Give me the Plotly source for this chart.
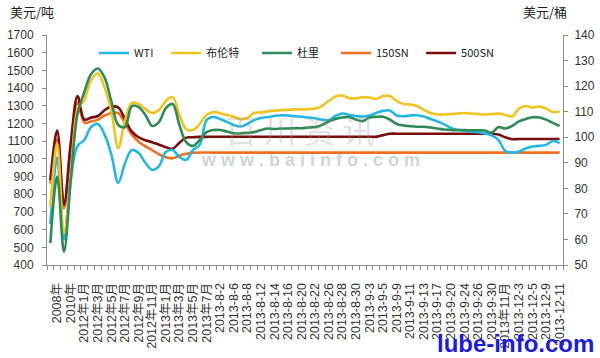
import plotly.graph_objects as go

categories = [
    "2007年", "2008年", "2009年", "2010年", "2011年",
    "2012年1月", "2012年2月", "2012年3月", "2012年4月", "2012年5月", "2012年6月",
    "2012年7月", "2012年8月", "2012年9月", "2012年10月", "2012年11月", "2012年12月",
    "2013年1月", "2013年2月", "2013年3月", "2013年4月", "2013年5月", "2013年6月", "2013年7月",
    "2013-8-1", "2013-8-2", "2013-8-5", "2013-8-6", "2013-8-7", "2013-8-8", "2013-8-9",
    "2013-8-12", "2013-8-13", "2013-8-14", "2013-8-15", "2013-8-16",
    "2013-8-19", "2013-8-20", "2013-8-21", "2013-8-22", "2013-8-23",
    "2013-8-26", "2013-8-27", "2013-8-28", "2013-8-29", "2013-8-30",
    "2013-9-2", "2013-9-3", "2013-9-4", "2013-9-5", "2013-9-6",
    "2013-9-9", "2013-9-10", "2013-9-11", "2013-9-12", "2013-9-13",
    "2013-9-16", "2013-9-17", "2013-9-18", "2013-9-20",
    "2013-9-23", "2013-9-24", "2013-9-25", "2013-9-26", "2013-9-27",
    "2013-9-30", "2013年10月", "2013年11月",
    "2013-12-2", "2013-12-3", "2013-12-4", "2013-12-5", "2013-12-6",
    "2013-12-9", "2013-12-10", "2013-12-11",
]

# crude oils, USD/barrel (right axis)
wti = [66, 92, 60, 84, 96.6, 98.9, 104, 105.2, 100.9, 93, 82.1, 89.9, 95, 93.8, 89.9, 87.2, 88.7,
       94.2, 95, 92.3, 91.1, 95, 97, 106.7,
       107.9, 107.1, 106, 104.8, 104.2, 105.2, 106.7, 107.5, 107.9, 108.3, 108.6, 108.5, 108.2, 108,
       107.7, 107.4, 106.9, 106.7, 108.3, 109.3, 108.7, 108.3, 108.1, 108.5, 109.5, 110.3, 110.5,
       108.5, 108.2, 108.5, 108.6, 108.1, 107.1, 106.2, 105, 103.6, 102.8, 102.5, 102.3, 102,
       101.5, 100.7, 98.9, 94.6, 94, 94.3, 95.6, 96.4, 96.6, 97, 98.5, 97.7]
brent = [72.8, 97.6, 62.5, 84, 110.7, 114.6, 122.4, 124.9, 119.3, 109.9, 95.8, 106.7, 113.4, 113,
         111, 109.5, 110.7, 114.2, 115.7, 108.7, 103.2, 102.8, 105.2, 108.7,
         109.9, 109.4, 108.7, 108, 107.1, 107.5, 109.5, 109.7, 110.1, 110.4, 110.6, 110.7, 110.9,
         110.9, 111, 111.2, 112.2, 114.2, 115.9, 116.3, 115.3, 115.2, 115.7, 115.5, 115, 116.1,
         116.1, 114.2, 113, 112.8, 112.2, 110.7, 109.5, 108.9, 108.9, 109.1, 109.3, 109.5, 109.3,
         109.1, 108.9, 109.1, 109.3, 108.7, 108.1, 111.2, 112.2, 111.6, 112, 111.2, 109.9, 110.1]
duri = [58.6, 84.6, 55.2, 83, 109.3, 117.7, 124.7, 126.9, 123.2, 113.8, 104.8, 104, 112.2, 111.8,
        108.7, 104.4, 106, 111.4, 113, 104.8, 98.1, 96.6, 98.9, 102,
        102.8, 102.8, 102.2, 101.5, 101.5, 101.7, 102, 102.8, 103.4, 103.2, 103.4, 103.4, 103.5,
        103.5, 103.8, 104, 104.8, 106.2, 107.1, 107.7, 107.9, 106.9, 106.3, 107.7, 108, 108,
        106.9, 105.2, 104.6, 104.3, 104.1, 104.1, 103.8, 103.4, 103, 102.8, 102.8, 102.8, 102.7,
        102.7, 102.6, 101.8, 104, 103.4, 104.4, 106.2, 107.1, 107.8, 107.7, 106.9, 105.6, 104.4]

# base oils, USD/ton (left axis)
sn150 = [860, 1110, 720, 1060, 1320, 1205, 1211, 1222, 1245, 1259, 1259, 1199, 1137, 1097, 1071,
         1049, 1026, 1009, 1003, 1017, 1029, 1034, 1036, 1036] + [1035] * 52
sn500 = [880, 1160, 740, 1090, 1355, 1222, 1233, 1242, 1276, 1295, 1290, 1222, 1154, 1122, 1105,
         1094, 1080, 1066, 1057, 1091, 1120, 1122, 1124, 1124] + [1125] * 25 + [1134] + \
        [1142] * 16 + [1137, 1122, 1111] + [1112] * 7

names = ["WTI", "布伦特", "杜里", "150SN", "500SN"]
values = [wti, brent, duri, sn150, sn500]
colors = ["#22B8E6", "#F2C31C", "#2E8B57", "#F07022", "#7B0C0C"]
yaxes = ["y2", "y2", "y2", "y", "y"]
legend_ids = ["legend", "legend2", "legend3", "legend4", "legend5"]
legend_x = [0.091, 0.231, 0.407, 0.560, 0.725]

x = list(range(len(categories)))
fig = go.Figure()
for name, vals, col, ax, lg in zip(names, values, colors, yaxes, legend_ids):
    fig.add_trace(go.Scatter(x=x, y=vals, name=name, yaxis=ax, mode="lines", legend=lg,
                             hoverinfo="skip",
                             line=dict(color=col, width=2.6, shape="spline", smoothing=1.0)))

tick_idx = list(range(1, len(categories), 2))
tick_txt = [categories[i] for i in tick_idx]
axis_col = "#8C8C8C"
font_fam = "Liberation Sans, Arial, Noto Sans CJK SC"
cjk = "Noto Sans CJK SC"

legend_style = dict(orientation="h", y=0.922, xanchor="left", yanchor="middle",
                    font=dict(family=cjk, size=11, color="#222"), bgcolor="rgba(0,0,0,0)",
                    itemwidth=30)
layout_legends = {lg: dict(legend_style, x=lx) for lg, lx in zip(legend_ids, legend_x)}

fig.update_layout(
    width=600, height=358,
    margin=dict(l=47, r=37, t=35, b=93),
    paper_bgcolor="white", plot_bgcolor="white",
    showlegend=True,
    xaxis=dict(range=[-0.5, len(categories) - 0.5], tickmode="array", tickvals=tick_idx,
               ticktext=tick_txt, tickangle=-90, ticks="", showline=True, linecolor=axis_col,
               linewidth=1, showgrid=False, zeroline=False, automargin=False,
               tickfont=dict(family=font_fam, size=12.5, color="#333"),
               ticklabelstandoff=12,
               minor=dict(tickmode="linear", tick0=-0.5, dtick=1, ticks="outside", ticklen=4,
                          tickcolor=axis_col, showgrid=False)),
    yaxis=dict(range=[400, 1700], dtick=100, showline=True, linecolor=axis_col, ticks="outside",
               ticklen=4, tickcolor=axis_col, showgrid=False, zeroline=False, automargin=False,
               tickfont=dict(family=font_fam, size=12, color="#333"), ticklabelstandoff=6),
    yaxis2=dict(range=[50, 140], dtick=10, overlaying="y", side="right", showline=True,
                linecolor=axis_col, ticks="outside", ticklen=4, tickcolor=axis_col,
                showgrid=False, zeroline=False, automargin=False,
                tickfont=dict(family=font_fam, size=12, color="#333"), ticklabelstandoff=4),
    annotations=[
        dict(text="美元/吨", xref="paper", yref="paper", x=-0.075, y=1.10, xanchor="left",
             yanchor="middle", showarrow=False, font=dict(family=cjk, size=13, color="#222")),
        dict(text="美元/桶", xref="paper", yref="paper", x=0.918, y=1.10, xanchor="left",
             yanchor="middle", showarrow=False, font=dict(family=cjk, size=13, color="#222")),
        dict(text="百 川 资 讯", xref="paper", yref="paper", x=0.49, y=0.59, xanchor="center",
             yanchor="middle", showarrow=False,
             font=dict(family=cjk, size=32, color="rgba(150,150,150,0.3)")),
        dict(text="w w w . b a i i n f o . c o m", xref="paper", yref="paper", x=0.51, y=0.455,
             xanchor="center", yanchor="middle", showarrow=False,
             font=dict(family="Liberation Sans", size=18, color="rgba(140,140,140,0.4)",
                       weight="bold")),
        dict(text="<b>lube-info.com</b>", xref="paper", yref="paper", x=0.907, y=-0.343,
             xanchor="center", yanchor="middle", showarrow=False,
             font=dict(family="Liberation Sans", size=24, color="#1A1AE6")),
    ],
    **layout_legends,
)

fig.write_html("out.html", config={"displayModeBar": False},
               post_script="document.body.style.margin='0';document.body.style.overflow='hidden';")
